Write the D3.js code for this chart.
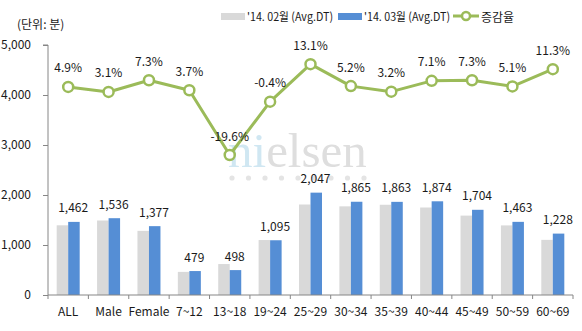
<!DOCTYPE html>
<html><head><meta charset="utf-8">
<script src="https://cdn.jsdelivr.net/npm/d3@7"></script>
<style>
html,body{margin:0;padding:0;background:#fff;}
svg{display:block;}
text{font-family:"Noto Sans CJK KR","Noto Sans",sans-serif;fill:#1a1a1a;}
</style></head>
<body><svg id="c" width="582" height="331"></svg>
<script>
const categories = ["ALL","Male","Female","7~12","13~18","19~24","25~29","30~34","35~39","40~44","45~49","50~59","60~69"];
const feb = [1394,1490,1283,462,619,1099,1810,1773,1805,1750,1588,1392,1103];
const mar = [1462,1536,1377,479,498,1095,2047,1865,1863,1874,1704,1463,1228];
const growth = [4.9,3.1,7.3,3.7,-19.6,-0.4,13.1,5.2,3.2,7.1,7.3,5.1,11.3];
const yTicks = [0,1000,2000,3000,4000,5000];
const legendLabels = ["'14. 02월 (Avg.DT)","'14. 03월 (Avg.DT)","증감율"];
const unitLabel = "(단위: 분)";

const colFeb = "#d9d9d9", colMar = "#558ed5", colLine = "#9bbb59", axisCol = "#868686";
const svg = d3.select("#c");
const x = d3.scaleBand().domain(categories).range([48,573]).padding(0);
const y = d3.scaleLinear().domain([0,5000]).range([295,45]);
const y2 = d3.scaleLinear().domain([-70,20]).range([295,45]);
const bw = 11.5;

// watermark
const wm = svg.append("g");
const wt = wm.append("text").attr("x",228).attr("y",167)
  .style("font-family","'Liberation Serif','DejaVu Serif',serif").style("font-size","49px");
wt.append("tspan").text("ni").style("fill","#d0e7f2");
wt.append("tspan").text("elsen").style("fill","#dedede");
wm.selectAll("circle").data(d3.range(9)).join("circle")
  .attr("cx",d=>232+d*16.5).attr("cy",178).attr("r",2.6).attr("fill","#e4e4e4");

// bars
const g = svg.append("g");
g.selectAll("rect.feb").data(categories).join("rect").attr("class","feb")
  .attr("x",d=>x(d)+x.bandwidth()/2-bw).attr("width",bw)
  .attr("y",(d,i)=>y(feb[i])).attr("height",(d,i)=>y(0)-y(feb[i])).attr("fill",colFeb);
g.selectAll("rect.mar").data(categories).join("rect").attr("class","mar")
  .attr("x",d=>x(d)+x.bandwidth()/2).attr("width",bw)
  .attr("y",(d,i)=>y(mar[i])).attr("height",(d,i)=>y(0)-y(mar[i])).attr("fill",colMar);
g.selectAll("text.bl").data(categories).join("text").attr("class","bl")
  .attr("x",d=>x(d)+x.bandwidth()/2+5).attr("y",(d,i)=>y(mar[i])-15)
  .attr("text-anchor","middle").attr("dominant-baseline","central").style("font-size","12px")
  .text((d,i)=>d3.format(",")(mar[i]));

// axes
const ya = svg.append("g").attr("transform","translate(48,0)")
  .call(d3.axisLeft(y).tickValues(yTicks).tickFormat(d3.format(",")).tickSize(5).tickPadding(12));
ya.select(".domain").attr("stroke",axisCol).attr("d","M-5,45H0V295");
ya.selectAll(".tick line").attr("stroke",axisCol);
ya.selectAll(".tick text").style("font-size","12px").style("font-family","'Noto Sans CJK KR','Noto Sans',sans-serif").attr("fill","#1a1a1a");

const xa = svg.append("g").attr("transform","translate(0,295)")
  .call(d3.axisBottom(x).tickSize(0).tickPadding(12));
xa.select(".domain").attr("stroke",axisCol).attr("d","M48,0H573");
xa.selectAll(".tick text").style("font-size","12px").style("font-family","'Noto Sans CJK KR','Noto Sans',sans-serif").attr("fill","#1a1a1a");
svg.append("g").selectAll("line").data(categories.concat(["__end"])).join("line")
  .attr("x1",(d,i)=>i<categories.length?x(d):x.range()[1]).attr("x2",(d,i)=>i<categories.length?x(d):x.range()[1])
  .attr("y1",295).attr("y2",299).attr("stroke",axisCol);

// line
const lineGen = d3.line().x((d,i)=>x(categories[i])+x.bandwidth()/2).y(d=>y2(d));
svg.append("path").datum(growth).attr("d",lineGen).attr("fill","none")
  .attr("stroke",colLine).attr("stroke-width",3).attr("stroke-linejoin","round");
svg.append("g").selectAll("circle").data(growth).join("circle")
  .attr("cx",(d,i)=>x(categories[i])+x.bandwidth()/2).attr("cy",d=>y2(d)).attr("r",5)
  .attr("fill","#fff").attr("stroke",colLine).attr("stroke-width",2.5);
svg.append("g").selectAll("text").data(growth).join("text")
  .attr("x",(d,i)=>x(categories[i])+x.bandwidth()/2).attr("y",d=>y2(d)-20)
  .attr("text-anchor","middle").attr("dominant-baseline","central").style("font-size","12px")
  .text(d=>d.toFixed(1)+"%");

// unit
svg.append("text").attr("x",17).attr("y",23).attr("dominant-baseline","central").style("font-size","12px").text(unitLabel);

// legend
const lg = svg.append("g");
const lfs = "11.5px";
lg.append("rect").attr("x",221).attr("y",13).attr("width",24).attr("height",7).attr("fill",colFeb);
lg.append("text").attr("x",247).attr("y",16).attr("dominant-baseline","central").style("font-size",lfs)
  .attr("textLength",86).attr("lengthAdjust","spacingAndGlyphs").text(legendLabels[0]);
lg.append("rect").attr("x",338).attr("y",13).attr("width",24).attr("height",7).attr("fill",colMar);
lg.append("text").attr("x",364).attr("y",16).attr("dominant-baseline","central").style("font-size",lfs)
  .attr("textLength",86).attr("lengthAdjust","spacingAndGlyphs").text(legendLabels[1]);
lg.append("line").attr("x1",453).attr("x2",479).attr("y1",16).attr("y2",16).attr("stroke",colLine).attr("stroke-width",3);
lg.append("circle").attr("cx",466).attr("cy",16).attr("r",4).attr("fill","#fff").attr("stroke",colLine).attr("stroke-width",2.5);
lg.append("text").attr("x",481).attr("y",16).attr("dominant-baseline","central").style("font-size","12px").text(legendLabels[2]);
</script></body></html>
